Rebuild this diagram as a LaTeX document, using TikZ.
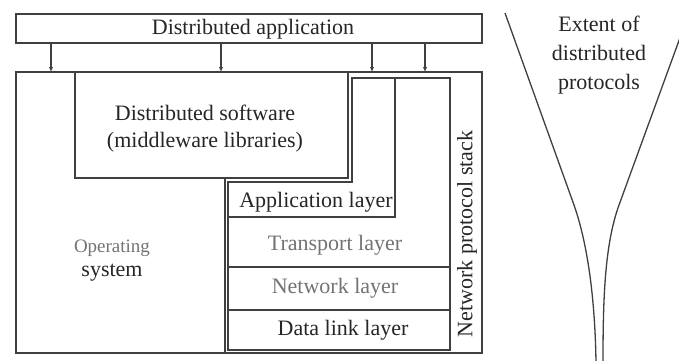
\documentclass[tikz,border=0pt]{standalone}
\usepackage{fontspec}
\setmainfont{Liberation Serif}
\usetikzlibrary{arrows.meta}
\begin{document}
\begin{tikzpicture}[x=1pt,y=-1pt,
  ln/.style={draw=black!75, line width=1.3pt},
  lbl/.style={font=\fontsize{22}{27}\selectfont, text=black!85, inner sep=0pt, align=center},
  dim/.style={lbl, text=black!55},
  arr/.style={ln, -{Latex[length=5pt,width=4.5pt]}},
  box/.style={ln, rectangle, inner sep=0pt, outer sep=0pt}
]
\useasboundingbox[fill=white] (0,0) rectangle (679,360);

% boxes
\node[box, minimum width=466pt, minimum height=29pt] (app) at (249,28.5) {};
\node[lbl, anchor=base] (apptext) at (253,34) {Distributed application};
\node[box, minimum width=466pt, minimum height=281pt] (os) at (249,212.5) {};
\node[box, minimum width=273pt, minimum height=106pt] (mw) at (211.5,125) {};
\node[lbl, anchor=base] (mwtext) at (205,147) {Distributed software\\(middleware libraries)};

% OS boundary
\draw[ln] (225,178) -- (225,353);

% protocol stack
\draw[ln] (352,78) -- (450,78) -- (450,350) -- (228,350) -- (228,182) -- (352,182) -- cycle;
\draw[ln] (395,78) -- (395,217) -- (228,217);
\draw[ln] (228,267) -- (450,267);
\draw[ln] (228,310) -- (450,310);

% arrows
\foreach \x [count=\i] in {51,221,372,425} {
  \coordinate (t\i) at (\x,72);
  \draw[arr] (app.south -| t\i) -- (t\i);
}

% labels
\node[lbl, anchor=base] (applayer) at (316,207) {Application layer};
\node[dim, anchor=base] (transport) at (335,250) {Transport layer};
\node[dim, anchor=base] (netlayer) at (335,293) {Network layer};
\node[lbl, anchor=base] (datalink) at (343,335) {Data link layer};
\node[dim, anchor=base, font=\fontsize{19}{23}\selectfont] (osA) at (112,252) {Operating};
\node[lbl, anchor=base] (osB) at (112,276) {system};
\node[lbl, rotate=90] (nps) at (467,234) {Network protocol stack};
\node[lbl, anchor=base, font=\fontsize{22}{29}\selectfont] (ext) at (599,89) {Extent of\\distributed\\protocols};

% funnel
\draw[ln] (505,13) -- (574,205) .. controls (588,245) and (595,300) .. (596,362);
\draw[ln] (681,35) -- (619,205) .. controls (604.5,245) and (603,300) .. (603,362);
\end{tikzpicture}
\end{document}
